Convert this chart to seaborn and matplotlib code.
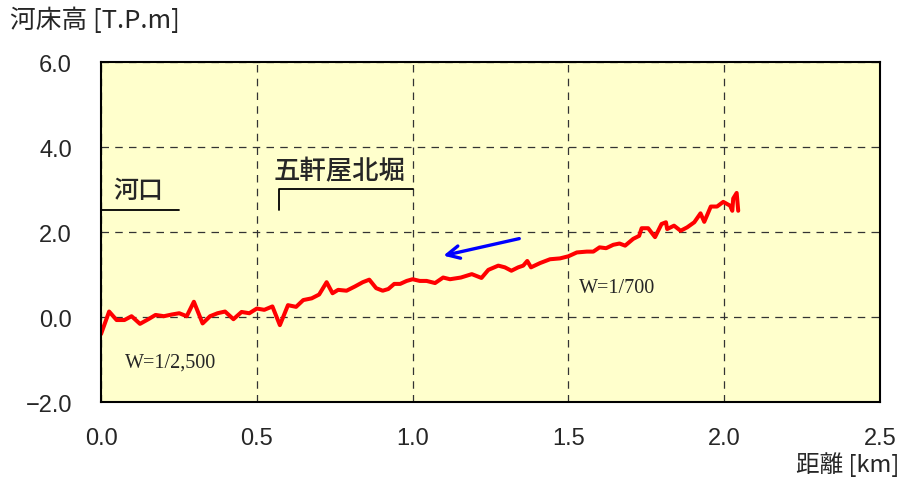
import matplotlib
matplotlib.use('Agg')
import matplotlib.pyplot as plt
import numpy as np
import pandas as pd
import seaborn as sns

# river bed profile
distance_km = [0.000, 0.026, 0.050, 0.075, 0.098, 0.125, 0.152, 0.175, 0.202, 0.227,
               0.251, 0.275, 0.298, 0.326, 0.350, 0.374, 0.398, 0.425, 0.451, 0.476,
               0.500, 0.524, 0.550, 0.574, 0.600, 0.626, 0.649, 0.676, 0.700, 0.724,
               0.743, 0.761, 0.788, 0.815, 0.840, 0.861, 0.883, 0.904, 0.922, 0.941,
               0.960, 0.981, 1.000, 1.023, 1.045, 1.072, 1.098, 1.120, 1.155, 1.190,
               1.221, 1.243, 1.275, 1.296, 1.317, 1.339, 1.355, 1.368, 1.380, 1.409,
               1.441, 1.473, 1.500, 1.527, 1.559, 1.580, 1.600, 1.621, 1.644, 1.664,
               1.682, 1.708, 1.727, 1.735, 1.756, 1.778, 1.799, 1.813, 1.817, 1.839,
               1.860, 1.881, 1.904, 1.924, 1.936, 1.957, 1.977, 1.997, 2.019, 2.026,
               2.029, 2.040, 2.045]
bed_height = [-0.40, 0.13, -0.07, -0.07, 0.02, -0.16, -0.05, 0.05, 0.02, 0.06,
              0.09, 0.02, 0.36, -0.15, 0.02, 0.09, 0.13, -0.05, 0.12, 0.09,
              0.20, 0.17, 0.25, -0.19, 0.28, 0.24, 0.40, 0.44, 0.53, 0.82,
              0.56, 0.64, 0.62, 0.72, 0.82, 0.88, 0.68, 0.62, 0.66, 0.78,
              0.78, 0.85, 0.89, 0.85, 0.85, 0.80, 0.93, 0.89, 0.93, 1.01,
              0.92, 1.11, 1.21, 1.17, 1.09, 1.17, 1.21, 1.32, 1.17, 1.27,
              1.36, 1.38, 1.43, 1.52, 1.54, 1.54, 1.64, 1.62, 1.70, 1.73,
              1.68, 1.84, 1.91, 2.09, 2.09, 1.88, 2.19, 2.23, 2.07, 2.15,
              2.03, 2.11, 2.23, 2.44, 2.24, 2.60, 2.60, 2.71, 2.62, 2.50,
              2.79, 2.92, 2.50]

x_ticks = [0.0, 0.5, 1.0, 1.5, 2.0, 2.5]
y_ticks = [-2.0, 0.0, 2.0, 4.0, 6.0]

sns.set_style('white')
plt.rcParams['font.family'] = ['Liberation Sans', 'Noto Sans CJK JP', 'DejaVu Sans']
plt.rcParams['axes.unicode_minus'] = True

df = pd.DataFrame({'distance': distance_km, 'height': bed_height})

fig = plt.figure(figsize=(9.02, 4.81), dpi=100)
ax = fig.add_axes([0.112, 0.162, 0.8636, 0.707])
ax.set_facecolor('#FFFFCC')

sns.lineplot(data=df, x='distance', y='height', sort=False, color='#FF0000',
             linewidth=2.9, ax=ax)

ax.set_xlim(0, 2.5)
ax.set_ylim(-2.0, 6.0)
ax.set_xticks(x_ticks)
ax.set_yticks(y_ticks)
ax.set_xticklabels([f'{t:.1f}' for t in x_ticks], fontsize=17)
ax.set_yticklabels([f'{t:.1f}'.replace('-', '\u2212') for t in y_ticks], fontsize=17)
ax.tick_params(axis='y', length=0, pad=21)
ax.tick_params(axis='x', length=0, pad=18)
ax.grid(True, linestyle=(0, (6, 5)), color='#333333', linewidth=0.9)
for s in ax.spines.values():
    s.set_color('black')
    s.set_linewidth(1.5)
ax.set_xlabel('')
ax.set_ylabel('')

jp = ['Noto Sans CJK JP', 'DejaVu Sans']
fig.text(0.011, 0.957, '河床高 [T.P.m]', fontsize=18.5, family=jp, va='center', ha='left')
fig.text(0.997, 0.035, '距離 [km]', fontsize=17, family=jp, va='center', ha='right')

# location labels
ax.text(0.12, 2.98, '河口', fontsize=18, family=jp, ha='center', va='center',
        fontweight='medium')
ax.plot([0.0, 0.25], [2.52, 2.52], color='black', linewidth=1.3)
ax.text(0.765, 3.44, '五軒屋北堀', fontsize=19, family=jp, ha='center', va='center',
        fontweight='medium')
ax.plot([0.571, 0.571, 1.0], [2.52, 3.01, 3.01], color='black', linewidth=1.3)

# gradient notes
serif = ['Liberation Serif', 'DejaVu Serif']
ax.text(1.655, 0.69, 'W=1/700', fontsize=14.5, family=serif, ha='center', va='center')
ax.text(0.224, -1.07, 'W=1/2,500', fontsize=14.5, family=serif, ha='center', va='center')

# flow direction
ax.annotate('', xy=(1.09, 1.43), xytext=(1.351, 1.86),
            arrowprops=dict(arrowstyle='->,head_length=0.9,head_width=0.45',
                            color='#0000FF', linewidth=2.4))

fig.savefig('out.png', dpi=100)
